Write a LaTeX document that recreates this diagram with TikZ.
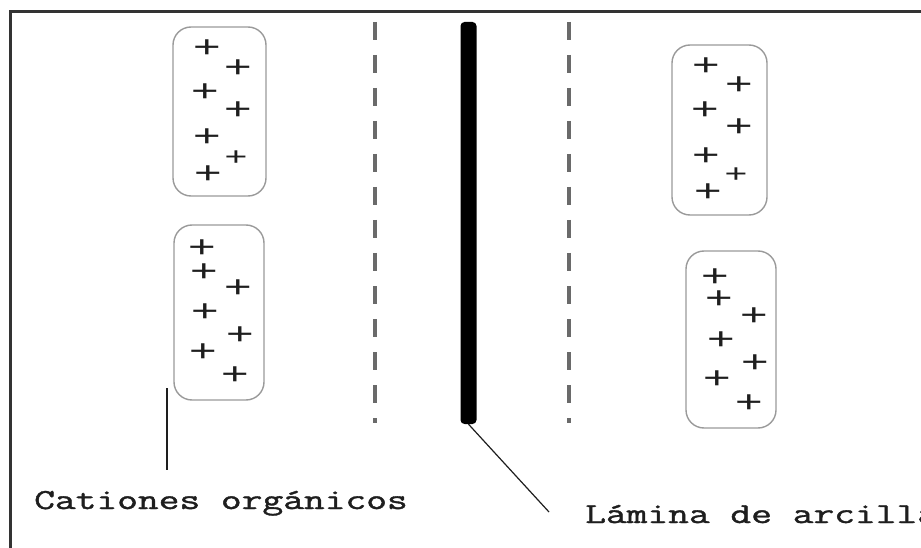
\documentclass[tikz,border=0pt]{standalone}
\usepackage{fontspec}
\setmonofont{Latin Modern Mono}[FakeBold=1.2]
\newfontfamily\plusfont{Liberation Sans}
\definecolor{framegray}{HTML}{333333}
\definecolor{dashgray}{HTML}{6A6A6A}
\definecolor{capsgray}{HTML}{9A9A9A}
\definecolor{inkgray}{HTML}{1E1E1E}
\tikzset{
  capsule/.style={draw=capsgray, line width=1.4pt, rounded corners=18pt,
    inner sep=0pt, minimum width=#1},
  capsule/.default=92pt,
  charge/.style={inner sep=0pt, text=inkgray,
    font=\plusfont\fontsize{41}{41}\selectfont},
  smallcharge/.style={charge, font=\plusfont\fontsize{34}{34}\selectfont},
  layerline/.style={dashgray, line width=4pt, dash pattern=on 18pt off 15pt},
  sheet/.style={fill=black, inner sep=0pt, minimum width=16pt,
    minimum height=402pt, rounded corners=4pt},
  leader/.style={inkgray, line width=1.2pt},
  caption/.style={inner sep=0pt, anchor=base west, text=inkgray,
    font=\ttfamily\fontsize{40.3}{46}\selectfont}
}
\newcommand{\chg}{\scalebox{1.15}[0.75]{+}}
\newcommand{\squash}[1]{\scalebox{1}[0.72]{#1}}
\begin{document}
\begin{tikzpicture}[x=1pt, y=-1pt]
  \useasboundingbox (0,0) rectangle (921,548);
  \clip (0,0) rectangle (921,548);
  \fill[white] (0,0) rectangle (921,548);

  % outer frame, running off the right and bottom edges
  \draw[framegray, line width=3pt] (10,12) rectangle (960,580);

  % boundaries of the interlayer region
  \draw[layerline] (375,22) -- (375,423);
  \draw[layerline] (569,22) -- (569,423);

  % clay sheet
  \node[sheet] (sheet) at (468.5,223) {};

  % organic cation aggregates
  \node[capsule=93pt, minimum height=169pt] (capA) at (219.5,111.5) {};
  \node[capsule=90pt, minimum height=175pt] (capB) at (219,312.5) {};
  \node[capsule=95pt, minimum height=170pt] (capC) at (719.5,130) {};
  \node[capsule=90pt, minimum height=177pt] (capD) at (731,339.5) {};

  % charges, upper left
  \node[charge] (a1) at (207,49) {\chg};
  \node[charge] (a2) at (238,69) {\chg};
  \node[charge] (a3) at (205,93) {\chg};
  \node[charge] (a4) at (238,111) {\chg};
  \node[charge] (a5) at (207,138) {\chg};
  \node[smallcharge] (a6) at (236,158) {\chg};
  \node[charge] (a7) at (208,175) {\chg};
  % charges, lower left
  \node[charge] (b1) at (202,249) {\chg};
  \node[charge] (b2) at (204,273) {\chg};
  \node[charge] (b3) at (238,289) {\chg};
  \node[charge] (b4) at (205,313) {\chg};
  \node[charge] (b5) at (240,336) {\chg};
  \node[charge] (b6) at (203,353) {\chg};
  \node[charge] (b7) at (235,376) {\chg};
  % charges, upper right
  \node[charge] (c1) at (706,67) {\chg};
  \node[charge] (c2) at (739,86) {\chg};
  \node[charge] (c3) at (705,111) {\chg};
  \node[charge] (c4) at (739,128) {\chg};
  \node[charge] (c5) at (706,157) {\chg};
  \node[smallcharge] (c6) at (736,175) {\chg};
  \node[charge] (c7) at (708,193) {\chg};
  % charges, lower right
  \node[charge] (d1) at (715,278) {\chg};
  \node[charge] (d2) at (719,300) {\chg};
  \node[charge] (d3) at (754,317) {\chg};
  \node[charge] (d4) at (721,341) {\chg};
  \node[charge] (d5) at (755,364) {\chg};
  \node[charge] (d6) at (717,380) {\chg};
  \node[charge] (d7) at (749,404) {\chg};

  % labels
  \node[caption] (lblcat) at (34,509) {\squash{Cationes orgánicos}};
  \node[caption] (lblsheet) at (585,523) {\squash{Lámina de arcilla}};

  % leader lines
  \coordinate (catTop) at (167,388);
  \coordinate (catEnd) at (167,470);
  \coordinate (sheetEnd) at (549,512);
  \draw[leader] (catTop) -- (catEnd);
  \draw[leader] (sheet.south) -- (sheetEnd);
\end{tikzpicture}
\end{document}
